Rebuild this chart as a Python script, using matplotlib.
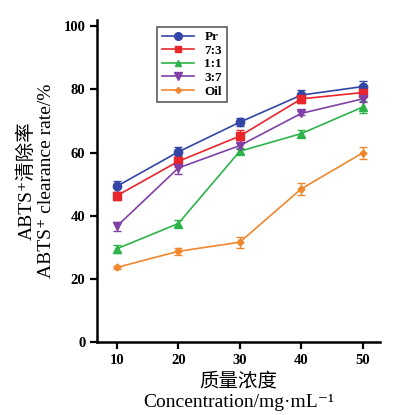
import matplotlib
matplotlib.use("Agg")
import matplotlib.pyplot as plt
from matplotlib.lines import Line2D

plt.rcParams['font.family'] = ['Liberation Serif', 'Noto Sans CJK SC', 'DejaVu Sans']

conc = [10, 20, 30, 40, 50]
pr = [49.3, 60.2, 69.6, 78.2, 80.9]
pr_err = [1.8, 1.5, 1.3, 1.5, 1.8]
r73 = [46.3, 57.2, 65.2, 77.0, 79.0]
r73_err = [1.3, 1.8, 1.8, 1.2, 1.5]
r11 = [29.5, 37.5, 60.4, 66.0, 74.4]
r11_err = [1.3, 1.0, 1.0, 1.2, 1.8]
r37 = [36.6, 55.1, 62.2, 72.4, 77.0]
r37_err = [1.3, 1.8, 1.0, 0.6, 1.0]
oil = [23.6, 28.7, 31.6, 48.5, 59.9]
oil_err = [0.6, 1.2, 1.8, 1.8, 1.8]

series = [
    ("Pr", pr, pr_err, "#3345a5", "o", 6),
    ("7:3", r73, r73_err, "#e8262b", "s", 5.5),
    ("1:1", r11, r11_err, "#2db34a", "^", 5.5),
    ("3:7", r37, r37_err, "#8040a8", "v", 6),
    ("Oil", oil, oil_err, "#f0872e", "D", 3.5),
]

fig = plt.figure(figsize=(3.93, 4.15), dpi=100)
ax = fig.add_axes([0.247, 0.176, 0.72, 0.776])

handles = []
for name, vals, err, col, mk, ms in series:
    ax.errorbar(conc, vals, yerr=err, color=col, marker=mk, markersize=ms,
                linewidth=1.2, elinewidth=1.0, capsize=3, capthick=1.0)
    handles.append(Line2D([], [], color=col, marker=mk, markersize=ms - 0.5,
                          linewidth=1.2, label=name))

ax.set_xlim(6.8, 52.8)
ax.set_ylim(0, 102)
ax.set_xticks(conc)
ax.set_yticks([0, 20, 40, 60, 80, 100])
for s in ['top', 'right']:
    ax.spines[s].set_visible(False)
for s in ['left', 'bottom']:
    ax.spines[s].set_linewidth(1.8)
ax.tick_params(width=1.6, length=5, labelsize=10.5)
for lab in ax.get_xticklabels() + ax.get_yticklabels():
    lab.set_fontweight('bold')

ax.set_xlabel("质量浓度\nConcentration/mg·mL⁻¹", fontsize=14, linespacing=1.3)
ax.set_ylabel("ABTS⁺清除率\nABTS⁺ clearance rate/%", fontsize=14, linespacing=1.15,
              labelpad=6)

leg = ax.legend(handles=handles, loc='upper left', bbox_to_anchor=(0.19, 1.0),
                frameon=True, fancybox=False, edgecolor='#333333',
                handlelength=2.4, borderpad=0.35, labelspacing=0.1,
                prop={'weight': 'bold', 'size': 9.5})
leg.get_frame().set_linewidth(1.2)

fig.savefig("out.png", dpi=100)
